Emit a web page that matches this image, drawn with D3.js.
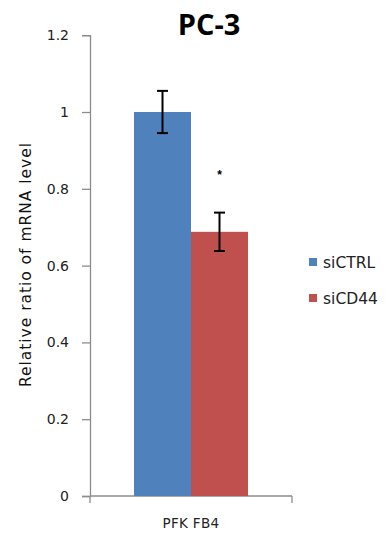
<!DOCTYPE html>
<html>
<head>
<meta charset="utf-8">
<script src="https://cdn.jsdelivr.net/npm/d3@7/dist/d3.min.js"></script>
<style>
  html, body { margin: 0; padding: 0; background: #fff; }
  svg { display: block; }
</style>
</head>
<body>
<svg id="chart" width="385" height="533"></svg>
<script>
// Relative PFKFB4 mRNA level in PC-3 cells after CD44 knockdown
const categories = ["PFK FB4"];
const seriesNames = ["siCTRL", "siCD44"];
const seriesColors = ["#4f81bd", "#c0504d"];
const meanValues = [1.0, 0.688];
const errorValues = [0.055, 0.05];
const yTicks = [0, 0.2, 0.4, 0.6, 0.8, 1, 1.2];
const significance = ["", "*"];

const svg = d3.select("#chart");
const frame = { left: 90, top: 35.2, right: 292, bottom: 496 };
const labelFont = "DejaVu Sans, Verdana, sans-serif";

const y = d3.scaleLinear().domain([0, 1.2]).range([frame.bottom, frame.top]);
const x0 = d3.scaleBand().domain(categories).range([frame.left, frame.right])
  .paddingInner(0).paddingOuter(0.386);
const x1 = d3.scaleBand().domain(seriesNames).range([0, x0.bandwidth()]).padding(0);

// Y axis
const yAxis = d3.axisLeft(y).tickValues(yTicks).tickSize(8).tickPadding(13)
  .tickFormat(d => d3.format("~g")(d));
const gy = svg.append("g").attr("transform", `translate(${frame.left},0)`).call(yAxis);
gy.select(".domain").attr("stroke", "#8c8c8c").attr("stroke-width", 1.3);
gy.selectAll(".tick line").attr("stroke", "#8c8c8c").attr("stroke-width", 1.3);
gy.selectAll(".tick text").attr("font-family", labelFont)
  .attr("font-size", 14).attr("fill", "#222");

// X axis (category axis with boundary ticks)
const gx = svg.append("g").attr("transform", `translate(0,${frame.bottom})`);
gx.append("line").attr("x1", frame.left).attr("x2", frame.right)
  .attr("stroke", "#8c8c8c").attr("stroke-width", 1.3);
[frame.left, frame.right].forEach(px => {
  gx.append("line").attr("x1", px).attr("x2", px).attr("y1", 0).attr("y2", 7)
    .attr("stroke", "#8c8c8c").attr("stroke-width", 1.3);
});
gx.selectAll("text.cat").data(categories).join("text")
  .attr("class", "cat")
  .attr("x", d => x0(d) + x0.bandwidth() / 2)
  .attr("y", 32)
  .attr("text-anchor", "middle")
  .attr("font-family", labelFont)
  .attr("font-size", 13.5).attr("letter-spacing", 0.3).attr("fill", "#222")
  .text(d => d);

// Bars
const rows = seriesNames.map((s, i) => ({ s, v: meanValues[i], e: errorValues[i], c: seriesColors[i], sig: significance[i] }));
const g = svg.append("g").attr("transform", `translate(${x0(categories[0])},0)`);
g.selectAll("rect.bar").data(rows).join("rect")
  .attr("class", "bar")
  .attr("x", d => x1(d.s))
  .attr("width", x1.bandwidth())
  .attr("y", d => y(d.v))
  .attr("height", d => y(0) - y(d.v))
  .attr("fill", d => d.c);

// Error bars
const cap = 5.5;
const eb = g.selectAll("g.err").data(rows).join("g").attr("class", "err")
  .attr("transform", d => `translate(${x1(d.s) + x1.bandwidth() / 2},0)`);
eb.append("line").attr("y1", d => y(d.v + d.e)).attr("y2", d => y(d.v - d.e))
  .attr("stroke", "#000").attr("stroke-width", 2);
eb.append("line").attr("x1", -cap).attr("x2", cap).attr("y1", d => y(d.v + d.e)).attr("y2", d => y(d.v + d.e))
  .attr("stroke", "#000").attr("stroke-width", 2);
eb.append("line").attr("x1", -cap).attr("x2", cap).attr("y1", d => y(d.v - d.e)).attr("y2", d => y(d.v - d.e))
  .attr("stroke", "#000").attr("stroke-width", 2);

// Significance marker
eb.append("text")
  .attr("y", d => y(d.v + d.e) - 34)
  .attr("text-anchor", "middle")
  .attr("font-family", "Liberation Sans, Arial, sans-serif")
  .attr("font-size", 12).attr("font-weight", "bold").attr("fill", "#000")
  .text(d => d.sig);

// Y axis title
svg.append("text")
  .attr("transform", "translate(31,265) rotate(-90)")
  .attr("text-anchor", "middle")
  .attr("font-family", labelFont)
  .attr("font-size", 15.5)
  .attr("textLength", 244).attr("lengthAdjust", "spacing")
  .attr("fill", "#111")
  .text("Relative ratio of mRNA level");

// Chart title
svg.append("text")
  .attr("x", 209).attr("y", 35)
  .attr("text-anchor", "middle")
  .attr("font-family", "Open Sans, Liberation Sans, Arial, sans-serif")
  .attr("font-size", 29).attr("font-weight", "bold").attr("fill", "#000")
  .text("PC-3");

// Legend
const legend = svg.append("g").attr("transform", "translate(309,0)");
const legendY = [262, 298];
const li = legend.selectAll("g").data(rows).join("g")
  .attr("transform", (d, i) => `translate(0,${legendY[i]})`);
li.append("rect").attr("x", 0).attr("y", -4).attr("width", 8).attr("height", 8).attr("fill", d => d.c);
li.append("text").attr("x", 14).attr("y", 5.5)
  .attr("font-family", labelFont)
  .attr("font-size", 15.5).attr("fill", "#222")
  .text(d => d.s);
</script>
</body>
</html>
